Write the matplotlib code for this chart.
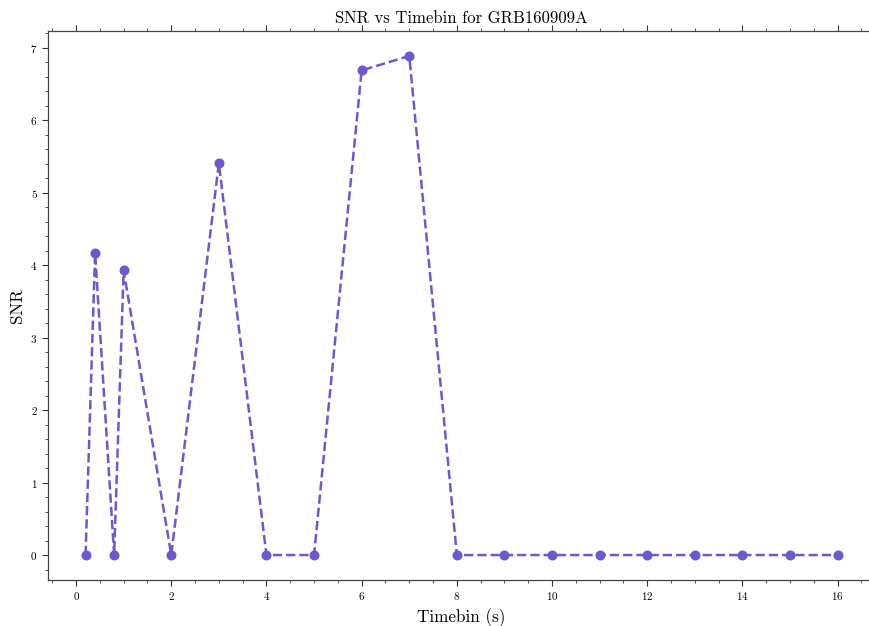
import matplotlib
matplotlib.use("Agg")
import matplotlib.pyplot as plt
from matplotlib.ticker import MultipleLocator

timebins = [0.2, 0.4, 0.8, 1, 2, 3, 4, 5, 6, 7, 8, 9, 10, 11, 12, 13, 14, 15, 16]
snr = [0, 4.17, 0, 3.93, 0, 5.41, 0, 0, 6.69, 6.89, 0, 0, 0, 0, 0, 0, 0, 0, 0]

plt.rcParams['font.family'] = 'serif'
plt.rcParams['font.serif'] = ['cmr10', 'DejaVu Serif']
plt.rcParams['mathtext.fontset'] = 'cm'
plt.rcParams['axes.formatter.use_mathtext'] = True

fig = plt.figure(figsize=(8.69, 6.26), dpi=100)
ax = fig.add_axes([0.0552, 0.0735, 0.952, 0.877])
ax.plot(timebins, snr, linestyle='--', marker='o', color='#6A5ACD',
        linewidth=1.8, markersize=6.2)
ax.set_xlim(-0.59, 16.79)
ax.set_ylim(-0.3445, 7.2345)
ax.xaxis.set_major_locator(MultipleLocator(2))
ax.xaxis.set_minor_locator(MultipleLocator(0.5))
ax.yaxis.set_major_locator(MultipleLocator(1))
ax.yaxis.set_minor_locator(MultipleLocator(0.2))
ax.tick_params(which='both', direction='out', top=True, right=True, labelsize=8, color='#333333')
ax.tick_params(which='major', length=4, width=0.8)
ax.tick_params(which='minor', length=2, width=0.6)
for s in ax.spines.values():
    s.set_color('#444444')
    s.set_linewidth(0.9)
ax.set_xlabel('Timebin (s)', fontsize=12.3)
ax.set_ylabel('SNR', fontsize=12.3)
ax.set_title('SNR vs Timebin for GRB160909A', fontsize=12)
fig.savefig('out.png', dpi=100)
